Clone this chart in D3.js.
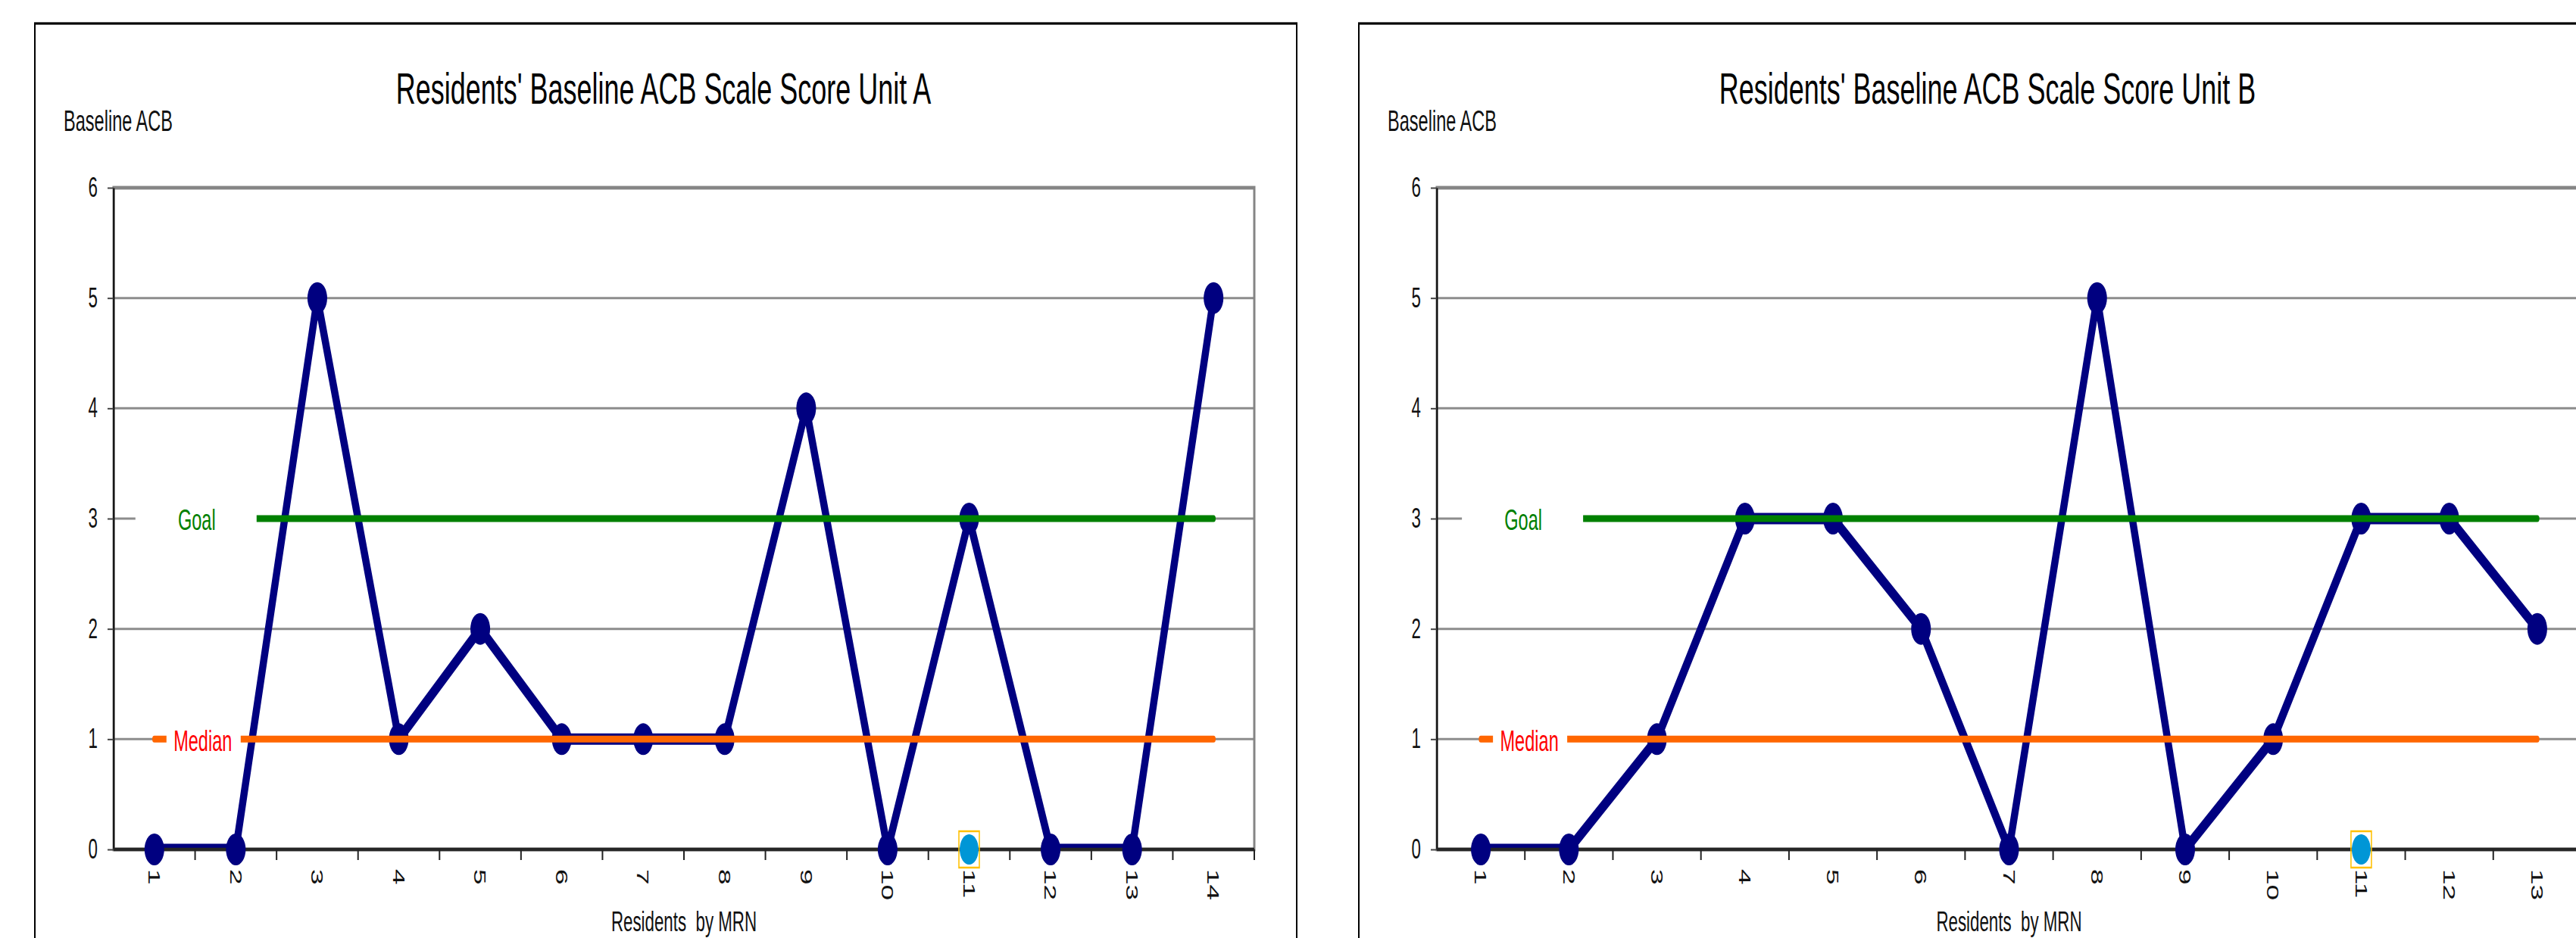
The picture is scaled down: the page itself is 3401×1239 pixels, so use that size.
<!DOCTYPE html>
<html>
<head>
<meta charset="utf-8">
<script src="https://cdn.jsdelivr.net/npm/d3@7"></script>
<style>
  html, body { margin: 0; padding: 0; background: #fff; }
  svg { display: block; }
  text { font-family: "Liberation Sans", Arial, Helvetica, sans-serif; }
</style>
</head>
<body>
<svg id="chart" width="3401" height="1239"></svg>
<script>
// Baseline ACB scale score per resident (by MRN order)
const residentsA = ["1","2","3","4","5","6","7","8","9","10","11","12","13","14"];
const scoresA    = [0, 0, 5, 1, 2, 1, 1, 1, 4, 0, 3, 0, 0, 5];

const residentsB = ["1","2","3","4","5","6","7","8","9","10","11","12","13"];
const scoresB    = [0, 0, 1, 3, 3, 2, 0, 5, 0, 1, 3, 3, 2];

// Reference lines for unit A and unit B
const goalScores   = [3, 3];
const medianScores = [1, 1];

// Highlighted (selected) point on each unit
const selectedResident = ["11", "11"];
const selectedScore    = [0, 0];

const yTicks = [0, 1, 2, 3, 4, 5, 6];
const titles = [
  "Residents' Baseline ACB Scale Score Unit A",
  "Residents' Baseline ACB Scale Score Unit B"
];

// The whole drawing is squeezed horizontally (narrow glyphs, tall markers)
const SX = 0.62;
const X = v => v / SX;

const svg = d3.select("#chart");

const panels = [
  { title: titles[0], cats: residentsA, vals: scoresA, goal: goalScores[0], median: medianScores[0],
    sel: selectedResident[0], selVal: selectedScore[0], box: [46, 1712], plot: [150, 1656] },
  { title: titles[1], cats: residentsB, vals: scoresB, goal: goalScores[1], median: medianScores[1],
    sel: selectedResident[1], selVal: selectedScore[1], box: [1794, 3460], plot: [1897, 3408] }
];

const PLOT_TOP = 248, PLOT_BOTTOM = 1122;

panels.forEach((p, i) => {
  const g = svg.append("g").attr("transform", `scale(${SX},1)`);

  const band = d3.scaleBand().domain(p.cats).range([X(p.plot[0]), X(p.plot[1])]);
  const cx = c => band(c) + band.bandwidth() / 2;
  const y = d3.scaleLinear().domain([0, 6]).range([PLOT_BOTTOM, PLOT_TOP]);

  // chart frame
  g.append("rect")
    .attr("x", X(p.box[0])).attr("y", 31)
    .attr("width", X(p.box[1]) - X(p.box[0])).attr("height", 1400)
    .attr("fill", "none").attr("stroke", "#000").attr("stroke-width", 2 / SX);

  // title
  g.append("text")
    .attr("x", X(p.box[0] + 830)).attr("y", 137)
    .attr("text-anchor", "middle")
    .attr("font-size", 58).attr("fill", "#000")
    .text(p.title);

  // y axis title
  g.append("text")
    .attr("x", X(p.box[0] + 38)).attr("y", 173)
    .attr("font-size", 38).attr("fill", "#111")
    .text("Baseline ACB");

  // horizontal gridlines
  g.append("g").selectAll("line")
    .data(yTicks.filter(t => t > 0 && t < 6))
    .join("line")
    .attr("x1", X(p.plot[0])).attr("x2", X(p.plot[1]))
    .attr("y1", d => y(d)).attr("y2", d => y(d))
    .attr("stroke", "#8c8c8c").attr("stroke-width", 3);

  // plot area border (top and right)
  g.append("rect")
    .attr("x", X(p.plot[0])).attr("y", y(6))
    .attr("width", X(p.plot[1]) - X(p.plot[0])).attr("height", y(0) - y(6))
    .attr("fill", "none").attr("stroke", "#858585").attr("stroke-width", 3 / SX);

  // y axis
  const yAxis = d3.axisLeft(y).tickValues(yTicks).tickFormat(d3.format("d"))
    .tickSize(8 / SX).tickSizeOuter(0).tickPadding(13 / SX);
  const ya = g.append("g").attr("transform", `translate(${X(p.plot[0])},0)`).call(yAxis);
  ya.select(".domain").attr("stroke", "#000").attr("stroke-width", 2 / SX);
  ya.selectAll(".tick line").attr("stroke", "#444").attr("stroke-width", 2);
  ya.selectAll(".tick text")
    .attr("font-family", "Liberation Sans, Arial, sans-serif")
    .attr("font-size", 36).attr("fill", "#111");

  // data series line, clipped to the plot area
  const clipId = `plotclip${i}`;
  g.append("clipPath").attr("id", clipId)
    .append("rect")
    .attr("x", X(p.plot[0])).attr("y", y(6))
    .attr("width", X(p.plot[1]) - X(p.plot[0])).attr("height", y(0) - y(6));

  const line = d3.line().x((d, k) => cx(p.cats[k])).y(d => y(d));
  g.append("path")
    .datum(p.vals)
    .attr("d", line)
    .attr("clip-path", `url(#${clipId})`)
    .attr("fill", "none").attr("stroke", "#000080")
    .attr("stroke-width", 15).attr("stroke-linejoin", "round");

  // category axis along zero
  g.append("line")
    .attr("x1", X(p.plot[0])).attr("x2", X(p.plot[1]))
    .attr("y1", y(0)).attr("y2", y(0))
    .attr("stroke", "#262626").attr("stroke-width", 4.5);

  g.append("g").selectAll("line")
    .data(p.cats)
    .join("line")
    .attr("x1", d => band(d) + band.bandwidth()).attr("x2", d => band(d) + band.bandwidth())
    .attr("y1", y(0)).attr("y2", y(0) + 14)
    .attr("stroke", "#222").attr("stroke-width", 2 / SX);

  g.append("g").selectAll("text")
    .data(p.cats)
    .join("text")
    .attr("transform", d => `translate(${cx(d)},1148) rotate(90)`)
    .attr("text-anchor", "start").attr("dominant-baseline", "central")
    .attr("font-size", 37).attr("fill", "#111")
    .text(d => d);

  // x axis title
  g.append("text")
    .attr("x", (X(p.plot[0]) + X(p.plot[1])) / 2).attr("y", 1230)
    .attr("text-anchor", "middle")
    .attr("font-size", 36).attr("fill", "#111")
    .style("white-space", "pre")
    .text("Residents  by MRN");

  // markers
  g.append("g").selectAll("circle")
    .data(p.vals)
    .join("circle")
    .attr("cx", (d, k) => cx(p.cats[k])).attr("cy", d => y(d))
    .attr("r", 21).attr("fill", "#000080");

  // goal and median reference lines
  const first = cx(p.cats[0]), last = cx(p.cats[p.cats.length - 1]);
  const refs = [
    { v: p.goal,   color: "#008000", label: "Goal",   text: "#008000", box: [-25, 135], tx: 56 },
    { v: p.median, color: "#ff6600", label: "Median", text: "#ff0000", box: [16, 114],  tx: 64 }
  ];
  refs.forEach(r => {
    g.append("line")
      .attr("x1", first).attr("x2", last)
      .attr("y1", y(r.v)).attr("y2", y(r.v))
      .attr("stroke", r.color).attr("stroke-width", 9).attr("stroke-linecap", "round");
    g.append("rect")
      .attr("x", first + X(r.box[0])).attr("y", y(r.v) - 15)
      .attr("width", X(r.box[1] - r.box[0])).attr("height", 30)
      .attr("fill", "#fff");
    g.append("text")
      .attr("x", first + X(r.tx)).attr("y", y(r.v) + 2)
      .attr("text-anchor", "middle").attr("dominant-baseline", "central")
      .attr("font-size", 38).attr("fill", r.text)
      .text(r.label);
  });

  // selected point
  const sx = cx(p.sel), sy = y(p.selVal);
  g.append("circle")
    .attr("cx", sx).attr("cy", sy).attr("r", 20)
    .attr("fill", "#0096d6");
  g.append("rect")
    .attr("x", sx - X(13.5)).attr("y", sy - 24)
    .attr("width", X(27)).attr("height", 48)
    .attr("fill", "none").attr("stroke", "#ffc000").attr("stroke-width", 2.5);
});
</script>
</body>
</html>
